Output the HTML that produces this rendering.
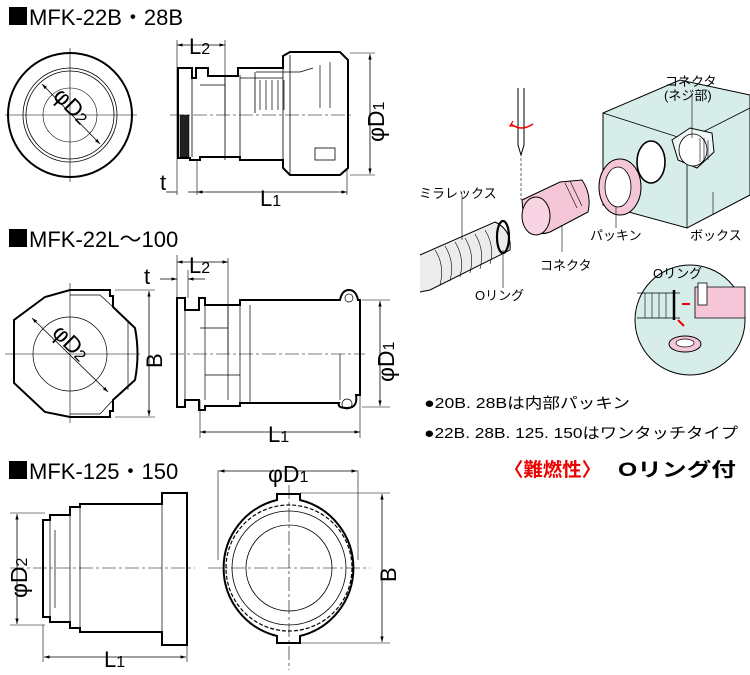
<!DOCTYPE html>
<html><head><meta charset="utf-8"><style>
html,body{margin:0;padding:0;background:#fff}
svg{display:block}
text{font-family:"Liberation Sans","Noto Sans CJK JP",sans-serif}
</style></head><body>
<svg width="750" height="675" viewBox="0 0 750 675" xmlns="http://www.w3.org/2000/svg">
<defs>
<marker id="a" viewBox="0 0 10 10" refX="10" refY="5" markerWidth="7" markerHeight="7" orient="auto-start-reverse"><path d="M0,2 L10,5 L0,8 z" fill="#000"/></marker>
</defs>
<g fill="none" stroke="#000">
<rect x="9" y="7" width="18" height="18" fill="#000" stroke="none"/>
<rect x="9" y="229" width="18" height="18" fill="#000" stroke="none"/>
<rect x="9" y="461" width="18" height="18" fill="#000" stroke="none"/>

<!-- Section 1 front circle -->
<circle cx="70" cy="115" r="62" stroke-width="2"/>
<circle cx="70" cy="115" r="47" stroke-width="0.8"/>
<circle cx="70" cy="115" r="44" stroke-width="0.8"/>
<circle cx="70" cy="115" r="27" stroke-width="0.6"/>
<path d="M5,115H137M70,48V182" stroke-width="0.6"/>
<path d="M42,84L100,144" stroke-width="0.8" marker-start="url(#a)" marker-end="url(#a)"/>

<!-- Section 1 side view -->
<path d="M178,68H192V78H196V68H208V76H238V68H283V56L290,52H340L348,60V168L340,175H290L283,168V160H240V157H200V160H190V158H178Z" stroke-width="2"/>
<path d="M192,78V157M200,85H225V160M225,75V113M240,78H283M240,75V160M255,72V113M283,68V160M290,55V175M256,72H300L313,68" stroke-width="0.8"/>
<path d="M260,80V110M266,80V110M272,80V110M278,80V110M284,80V110M320,65V108M330,62V108" stroke-width="0.7"/>
<rect x="180" y="115" width="9" height="42" fill="#222" stroke-width="0.5"/>
<rect x="315" y="148" width="20" height="12" stroke-width="0.8"/>
<path d="M170,115H352" stroke-width="0.6" stroke-dasharray="14,3,3,3"/>
<path d="M177,40V195M225,40V115M197,160V195M347,170V195M350,53H375M350,175H375" stroke-width="0.6"/>
<path d="M177,45H225" stroke-width="0.8" marker-start="url(#a)" marker-end="url(#a)"/>
<path d="M197,192H347" stroke-width="0.8" marker-start="url(#a)" marker-end="url(#a)"/>
<path d="M166,192H177M188,192H197" stroke-width="0.8"/>
<path d="M370,54V174" stroke-width="0.8" marker-start="url(#a)" marker-end="url(#a)"/>

<!-- Section 2 octagon -->
<path d="M70,290H110V296H113V307L135,328Q140,354 135,380L113,400V411H110V417H70L45,412L14,383V320L45,297Z" stroke-width="2"/>
<path d="M70,295H100L113,307M70,414H100L113,400M128,320V390" stroke-width="0.7"/>
<circle cx="70" cy="354" r="37" stroke-width="0.7"/>
<path d="M5,354H140M70,283V423" stroke-width="0.6"/>
<path d="M32,318L108,392" stroke-width="0.8" marker-start="url(#a)" marker-end="url(#a)"/>
<path d="M115,290H155M115,417H155" stroke-width="0.6"/>
<path d="M149,291V416" stroke-width="0.8" marker-start="url(#a)" marker-end="url(#a)"/>

<!-- Section 2 side view -->
<path d="M177,298H185V310H199V298H205V305H240V300H340Q342,290 349,290Q356,290 358,300H360V395H356Q358,408 347,408Q337,408 339,403H240V406H205V410H199V400H185V407H177Z" stroke-width="2"/>
<path d="M185,310V400M205,305V400M228,305V400M240,300V403M250,305V403M200,328H228M205,375H240M340,354V400" stroke-width="0.7"/>
<circle cx="349" cy="298" r="4" stroke-width="0.7"/>
<circle cx="347" cy="404" r="5" stroke-width="0.7"/>
<path d="M170,354H365" stroke-width="0.6" stroke-dasharray="14,3,3,3"/>
<path d="M177,255V298M188,270V298M228,258V354M200,400V438M360,395V438M362,300H390M362,407H390" stroke-width="0.6"/>
<path d="M177,262H228" stroke-width="0.8" marker-start="url(#a)" marker-end="url(#a)"/>
<path d="M160,279H177" stroke-width="0.8" marker-end="url(#a)"/>
<path d="M188,279H205" stroke-width="0.8" marker-start="url(#a)"/>
<path d="M200,432H360" stroke-width="0.8" marker-start="url(#a)" marker-end="url(#a)"/>
<path d="M380,301V406" stroke-width="0.8" marker-start="url(#a)" marker-end="url(#a)"/>

<!-- Section 3 side view -->
<path d="M43,520H50V515H70V507H80V504H162V493H187V645H162V632H80V628H70V622H50V617H43Z" stroke-width="2"/>
<path d="M50,520V617M70,507V628M80,504V632M162,504V632M55,530V608" stroke-width="0.7"/>
<path d="M10,568H195" stroke-width="0.6" stroke-dasharray="14,3,3,3"/>
<path d="M10,513H45M10,625H45M43,625V662M187,645V662" stroke-width="0.6"/>
<path d="M17,514V624" stroke-width="0.8" marker-start="url(#a)" marker-end="url(#a)"/>
<path d="M44,657H186" stroke-width="0.8" marker-start="url(#a)" marker-end="url(#a)"/>

<!-- Section 3 front view -->
<path d="M277,500V494H300V500A70,70 0 0 1 300,636V643H277V636A70,70 0 0 1 277,500Z" stroke-width="2"/>
<circle cx="289" cy="568" r="63" stroke-width="1.2" stroke-dasharray="4,2"/>
<circle cx="289" cy="568" r="57" stroke-width="0.8"/>
<circle cx="289" cy="568" r="43" stroke-width="0.8"/>
<path d="M208,568H370M289,485V670" stroke-width="0.6" stroke-dasharray="14,3,3,3"/>
<path d="M218,470V560M358,470V560M300,493H390M300,643H390" stroke-width="0.6"/>
<path d="M219,471H357" stroke-width="0.8" marker-start="url(#a)" marker-end="url(#a)"/>
<path d="M382,494V642" stroke-width="0.8" marker-start="url(#a)" marker-end="url(#a)"/>

<!-- Illustration: box -->
<path d="M603,113L680,80L750,95V195L687,228L603,205Z" fill="#d7ede9" stroke-width="1"/>
<path d="M603,113L687,140L750,108M687,140V228" stroke-width="0.8"/>
<ellipse cx="651" cy="162" rx="14" ry="21" fill="#fff" stroke-width="1.6"/>
<path d="M672,140L690,128L712,133L714,152L697,168L678,160Z" fill="#eef7f5" stroke-width="1"/>
<ellipse cx="693" cy="150" rx="14" ry="16" fill="#fff" stroke-width="0.8"/>
<path d="M700,138V162M704,138V162M708,140V160" stroke-width="0.6"/>
<path d="M692,93V138M713,192V215" stroke-width="0.6"/>
<ellipse cx="620" cy="187" rx="21" ry="28" fill="#f4c6d8" stroke-width="1"/>
<ellipse cx="618" cy="187" rx="13" ry="20" fill="#fff" stroke-width="0.8"/>
<path d="M616,207V228" stroke-width="0.6"/>
<path d="M522,200L560,182L582,180Q592,195 588,212L550,232Q535,238 524,222Z" fill="#f4c6d8" stroke-width="1"/>
<ellipse cx="536" cy="216" rx="14" ry="19" fill="#f8d4e2" stroke-width="1"/>
<path d="M565,183L577,208M570,181L582,206" stroke-width="0.6"/>
<path d="M562,225V252" stroke-width="0.6"/>
<path d="M518,88V145L521,155L524,145V88" stroke-width="1"/>
<path d="M521,158V200" stroke-width="0.6" stroke-dasharray="3,2"/>
<path d="M511,124Q521,132 533,124" stroke="#e00" stroke-width="1.5"/>
<path d="M513,121L510,126L515,126" stroke="#e00" stroke-width="1.2"/>
<path d="M420,255L495,222Q512,230 510,250L430,290L420,292" fill="#ececec" stroke-width="1"/>
<path d="M435,250Q445,265 440,285M445,246Q455,262 450,281M455,242Q465,258 460,277M465,238Q475,254 470,273M475,234Q485,250 480,269M485,230Q495,246 490,264" stroke-width="0.6"/>
<ellipse cx="503" cy="237" rx="6" ry="16" stroke-width="2.2"/>
<path d="M462,195V240M503,250V288" stroke-width="0.6"/>
<circle cx="690" cy="320" r="55" fill="#d7ede9" stroke-width="1"/>
<path d="M695,287H745V318H695Z" fill="#f4c6d8" stroke-width="0.8"/>
<path d="M637,293H680M637,318H680" stroke-width="0.8"/>
<path d="M645,293V318M652,293V318M659,293V318M666,293V318" stroke-width="0.6"/>
<path d="M674,290V320" stroke-width="2.5"/>
<rect x="698" y="283" width="9" height="22" fill="#fff" stroke-width="0.8"/>
<path d="M682,304H690" stroke="#e00" stroke-width="2"/>
<path d="M684,326L678,320" stroke="#e00" stroke-width="2"/>
<ellipse cx="685" cy="344" rx="16" ry="8" fill="#f4c6d8" stroke-width="1"/>
<ellipse cx="685" cy="343" rx="9" ry="4" fill="#fff" stroke-width="0.7"/>
</g>

<g fill="#000">
<text x="29" y="25" font-size="22">MFK-22B・28B</text>
<text x="29" y="247" font-size="22">MFK-22L～100</text>
<text x="29" y="479" font-size="22">MFK-125・150</text>
<text x="189" y="54" font-size="22">L<tspan font-size="16">2</tspan></text>
<text x="160" y="190" font-size="22">t</text>
<text x="260" y="206" font-size="22">L<tspan font-size="16">1</tspan></text>
<text transform="translate(384,142) rotate(-90)" font-size="23">φD<tspan font-size="16">1</tspan></text>
<text transform="translate(52,97) rotate(45)" font-size="23">φD<tspan font-size="16">2</tspan></text>
<text x="189" y="273" font-size="22">L<tspan font-size="16">2</tspan></text>
<text x="144" y="284" font-size="22">t</text>
<text x="268" y="442" font-size="22">L<tspan font-size="16">1</tspan></text>
<text transform="translate(162,368) rotate(-90)" font-size="22">B</text>
<text transform="translate(394,382) rotate(-90)" font-size="23">φD<tspan font-size="16">1</tspan></text>
<text transform="translate(51,334) rotate(45)" font-size="23">φD<tspan font-size="16">2</tspan></text>
<text x="104" y="667" font-size="22">L<tspan font-size="16">1</tspan></text>
<text transform="translate(27,598) rotate(-90)" font-size="23">φD<tspan font-size="16">2</tspan></text>
<text x="268" y="482" font-size="23">φD<tspan font-size="16">1</tspan></text>
<text transform="translate(396,582) rotate(-90)" font-size="22">B</text>

<text x="665" y="86" font-size="13">コネクタ</text>
<text x="664" y="100" font-size="13">(ネジ部)</text>
<text x="419" y="198" font-size="13">ミラレックス</text>
<text x="590" y="240" font-size="13">パッキン</text>
<text x="690" y="240" font-size="13">ボックス</text>
<text x="540" y="270" font-size="13">コネクタ</text>
<text x="475" y="300" font-size="13">Oリング</text>
<text x="653" y="278" font-size="13">Oリング</text>

<text x="424" y="408" font-size="15" textLength="206" lengthAdjust="spacingAndGlyphs">●20B. 28Bは内部パッキン</text>
<text x="424" y="438" font-size="15" textLength="314" lengthAdjust="spacingAndGlyphs">●22B. 28B. 125. 150はワンタッチタイプ</text>
<text x="504" y="476" font-size="19" font-weight="bold" fill="#e00" textLength="97" lengthAdjust="spacingAndGlyphs">〈難燃性〉</text>
<text x="618" y="476" font-size="19" font-weight="bold" textLength="118" lengthAdjust="spacingAndGlyphs">Oリング付</text>
</g>
</svg>
</body></html>
